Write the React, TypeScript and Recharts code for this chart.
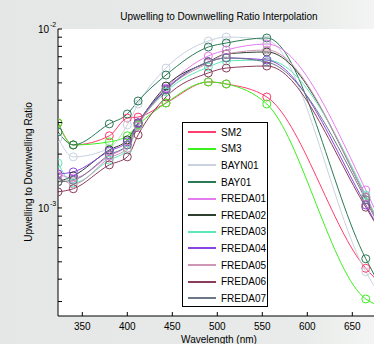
import { LineChart, Line, XAxis, YAxis, CartesianGrid, Legend } from 'recharts';

const wavelengths = [323, 340, 380, 400, 412, 443, 490, 510, 555, 665, 683];

const sm2 = [2.99e-3, 2.25e-3, 2.53e-3, 3.18e-3, 3.22e-3, 3.86e-3, 5.06e-3, 4.93e-3, 4.17e-3, 0.46e-3, 0.37e-3];
const sm3 = [2.99e-3, 2.25e-3, 2.34e-3, 2.53e-3, 2.91e-3, 3.86e-3, 5.06e-3, 4.93e-3, 3.81e-3, 0.31e-3, 0.28e-3];
const bayn01 = [2.46e-3, 1.93e-3, 2.16e-3, 2.91e-3, 3.81e-3, 6.05e-3, 8.57e-3, 9.02e-3, 8.68e-3, 0.44e-3, 0.31e-3];
const bay01 = [2.66e-3, 2.25e-3, 2.95e-3, 3.35e-3, 3.96e-3, 5.53e-3, 7.93e-3, 8.35e-3, 8.91e-3, 0.52e-3, 0.35e-3];
const freda01 = [1.55e-3, 1.47e-3, 1.95e-3, 2.25e-3, 2.95e-3, 4.68e-3, 7.07e-3, 7.63e-3, 8.24e-3, 1.26e-3, 0.8e-3];
const freda02 = [1.4e-3, 1.51e-3, 2.11e-3, 2.4e-3, 2.99e-3, 4.8e-3, 6.54e-3, 7.25e-3, 7.44e-3, 1.15e-3, 0.75e-3];
const freda03 = [1.78e-3, 1.38e-3, 1.85e-3, 2.11e-3, 2.87e-3, 4.45e-3, 6.13e-3, 6.63e-3, 6.71e-3, 1.18e-3, 0.75e-3];
const freda04 = [1.55e-3, 1.59e-3, 2.08e-3, 2.34e-3, 2.99e-3, 4.62e-3, 6.54e-3, 6.89e-3, 6.71e-3, 1.04e-3, 0.71e-3];
const freda05 = [1.51e-3, 1.36e-3, 1.9e-3, 2.16e-3, 2.87e-3, 4.56e-3, 6.46e-3, 7.25e-3, 7.63e-3, 1.15e-3, 0.75e-3];
const freda06 = [1.23e-3, 1.28e-3, 1.74e-3, 1.93e-3, 2.56e-3, 4.17e-3, 5.68e-3, 6.05e-3, 6.21e-3, 1.01e-3, 0.71e-3];
const freda07 = [1.4e-3, 1.43e-3, 1.98e-3, 2.25e-3, 2.95e-3, 4.56e-3, 6.54e-3, 6.89e-3, 6.54e-3, 1.11e-3, 0.73e-3];

const seriesNames = ['SM2', 'SM3', 'BAYN01', 'BAY01', 'FREDA01', 'FREDA02', 'FREDA03', 'FREDA04', 'FREDA05', 'FREDA06', 'FREDA07'];
const seriesValues = [sm2, sm3, bayn01, bay01, freda01, freda02, freda03, freda04, freda05, freda06, freda07];
const seriesColors = ['#ff3c6e', '#3cf01e', '#c8d2e0', '#2a7a55', '#e47cf0', '#2e3e2e', '#5ee8b8', '#8a46e0', '#cc96b4', '#8c3c5c', '#6c7886'];

const xTicks = [350, 400, 450, 500, 550, 600, 650];
const yTicks = [3e-4, 4e-4, 5e-4, 6e-4, 7e-4, 8e-4, 9e-4, 1e-3, 2e-3, 3e-3, 4e-3, 5e-3, 6e-3, 7e-3, 8e-3, 9e-3, 1e-2];

const FONT = '"Liberation Sans", Arial, sans-serif';

const rows = wavelengths.map((wl, i) => {
    const row: any = { wl };
    seriesNames.forEach((n, k) => { row[n] = seriesValues[k][i]; });
    return row;
});

const XTick = ({ x, y, payload }: any) => (
    <g>
        <line x1={x} y1={y} x2={x} y2={y - 4} stroke="#000" />
        <text x={x} y={y + 14} textAnchor="middle" fontSize={10} fontFamily={FONT} fill="#000">{payload.value}</text>
    </g>
);

const TopTick = ({ x, y }: any) => <line x1={x} y1={y} x2={x} y2={y + 4} stroke="#000" />;

const YTick = ({ x, y, payload }: any) => {
    const v = payload.value;
    const exp = v === 0.01 ? '-2' : v === 0.001 ? '-3' : null;
    return (
        <g>
            <line x1={x} y1={y} x2={x + 4} y2={y} stroke="#000" />
            {exp && (
                <g fontFamily={FONT} fill="#000">
                    <text x={x - 9} y={y + 4} textAnchor="end" fontSize={10}>10</text>
                    <text x={x - 8} y={y - 2} fontSize={7}>{exp}</text>
                </g>
            )}
        </g>
    );
};

const renderLegend = () => (
    <div style={{ background: '#fff', border: '1px solid #000', width: 86, height: 185, boxSizing: 'border-box', paddingTop: 1 }}>
        {seriesNames.map((n, i) => (
            <div key={n} style={{ display: 'flex', alignItems: 'center', height: 16.6, paddingLeft: 5 }}>
                <span style={{ display: 'inline-block', width: 28, borderTop: `2px solid ${seriesColors[i]}` }} />
                <span style={{ marginLeft: 5, fontSize: 10, fontFamily: FONT, color: '#000' }}>{n}</span>
            </div>
        ))}
    </div>
);

export default function App() {
    return (
        <div style={{ position: 'absolute', left: 0, top: 0, width: 374, height: 344, overflow: 'hidden', background: 'linear-gradient(to right, #e4e7e5 0%, #e8ebe9 80%, #f3f4f3 100%)' }}>
            <LineChart width={392} height={344} data={rows} margin={{ top: 29, right: 10, bottom: 0, left: 0 }}>
                <CartesianGrid horizontal={false} vertical={false} fill="#fff" />
                <XAxis dataKey="wl" type="number" domain={[323, 683]} allowDataOverflow ticks={xTicks} interval={0}
                    height={28} tickSize={0} tickMargin={0} tickLine={false} stroke="#000" tick={<XTick />} />
                <XAxis xAxisId="top" orientation="top" dataKey="wl" type="number" domain={[323, 683]} allowDataOverflow ticks={xTicks} interval={0}
                    height={0} tickSize={0} tickMargin={0} tickLine={false} stroke="#000" tick={<TopTick />} />
                <YAxis type="number" scale="log" domain={[2.49e-4, 1e-2]} allowDataOverflow ticks={yTicks} interval={0}
                    width={58} tickSize={0} tickMargin={0} tickLine={false} stroke="#000" tick={<YTick />} />
                <Legend layout="vertical" align="center" verticalAlign="middle" content={renderLegend}
                    wrapperStyle={{ left: 182, top: 122, width: 86, height: 185 }} />
                {seriesNames.map((n, i) => (
                    <Line key={n} dataKey={n} type="monotone" stroke={seriesColors[i]} strokeWidth={1}
                        dot={{ r: 4, stroke: seriesColors[i], fill: 'none', strokeWidth: 1 }} activeDot={false}
                        isAnimationActive={false} />
                ))}
                <text x={219} y={20} textAnchor="middle" fontSize={10} fontFamily={FONT} fill="#000">Upwelling to Downwelling Ratio Interpolation</text>
                <text x={219} y={343} textAnchor="middle" fontSize={10} fontFamily={FONT} fill="#000">Wavelength (nm)</text>
                <text transform="translate(32,172) rotate(-90)" textAnchor="middle" fontSize={10} fontFamily={FONT} fill="#000">Upwelling to Downwelling Ratio</text>
            </LineChart>
        </div>
    );
}
